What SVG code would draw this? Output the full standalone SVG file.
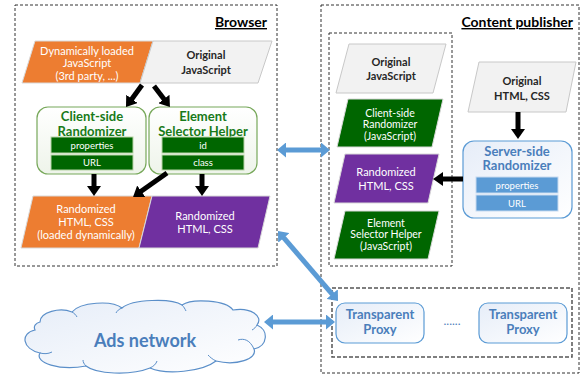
<svg xmlns="http://www.w3.org/2000/svg" width="581" height="375" viewBox="0 0 581 375">
<defs>
<linearGradient id="gGreen" x1="0" y1="0" x2="0" y2="1"><stop offset="0" stop-color="#ffffff"/><stop offset="1" stop-color="#eef4ea"/></linearGradient>
<linearGradient id="gBlue" x1="0" y1="0" x2="1" y2="1"><stop offset="0" stop-color="#e6edf8"/><stop offset="1" stop-color="#ffffff"/></linearGradient>
<marker id="ahK" markerUnits="userSpaceOnUse" viewBox="0 0 10 14" markerWidth="10" markerHeight="14" refX="1" refY="7" orient="auto"><path d="M0,0 L10,7 L0,14 z" fill="#000"/></marker>
<marker id="ahB" markerUnits="userSpaceOnUse" viewBox="0 0 9 15" markerWidth="9" markerHeight="15" refX="1" refY="7.5" orient="auto-start-reverse"><path d="M0,0 L9,7.5 L0,15 z" fill="#5b9bd5"/></marker>
</defs>
<style>
.t{font-family:Lato,"Open Sans","Liberation Sans",sans-serif}
.dash{fill:none;stroke:#333;stroke-width:1;stroke-dasharray:3 2}
.dash2{fill:none;stroke:#555;stroke-width:1.5;stroke-dasharray:4 2}
.title{font-size:14px;font-weight:bold;fill:#000;text-decoration:underline}
.gray{fill:#f2f2f2;stroke:#c8c8c8;stroke-width:1}
.grayT{font-size:11px;font-weight:bold;fill:#262626;text-anchor:middle}
.wT{font-size:11px;fill:#fff;text-anchor:middle}
.wS{font-size:10.5px;fill:#fff;text-anchor:middle}
.orange{fill:#ed7d31;stroke:#d9d9d9;stroke-width:1}
.purple{fill:#7030a0;stroke:#d9d9d9;stroke-width:1}
.dgreen{fill:#006600;stroke:#d9d9d9;stroke-width:1}
.gbox{fill:url(#gGreen);stroke:#77a85a;stroke-width:1.2}
.gT{font-size:13px;font-weight:bold;fill:#187a18;text-anchor:middle}
.gsub{fill:#006600;stroke:#b7d3a5;stroke-width:1}
.sT{font-size:9.5px;fill:#fff;text-anchor:middle}
.bbox{fill:url(#gBlue);stroke:#5b9bd5;stroke-width:1.2}
.bT{font-size:13px;font-weight:bold;fill:#4a7ebb;text-anchor:middle}
.pT{font-size:13px;font-weight:bold;fill:#4a7ebb;text-anchor:middle}
.bsub{fill:#5b9bd5;stroke:#c5d9ef;stroke-width:1}
.ka{stroke:#000;stroke-width:5;fill:none;marker-end:url(#ahK)}
.ba{stroke:#5b9bd5;stroke-width:5;fill:none;marker-start:url(#ahB);marker-end:url(#ahB)}
</style>

<g id="browser">
<rect class="dash" x="15" y="5" width="262" height="261"/>
<text class="t title" x="267" y="27" text-anchor="end">Browser</text>
</g>
<g id="publisher">
<rect class="dash" x="321" y="5" width="258" height="368"/>
<text class="t title" x="573" y="27" text-anchor="end">Content publisher</text>
</g>
<g id="served-group"><rect class="dash" x="329" y="33" width="123" height="233"/></g>
<g id="proxy-group"><rect class="dash2" x="332" y="288" width="240" height="69"/></g>

<g id="dyn-js">
<polygon class="orange" points="35,41 153,41 140,83 22,83"/>
<text class="t wT" x="87" y="54.5">Dynamically loaded</text>
<text class="t wT" x="87" y="67">JavaScript</text>
<text class="t wT" x="87" y="79.5">(3rd party, ...)</text>
</g>
<g id="orig-js-browser">
<polygon class="gray" points="153,41 272,41 258,83 140,83"/>
<text class="t grayT" x="206" y="59">Original</text>
<text class="t grayT" x="206" y="74">JavaScript</text>
</g>

<g id="client-randomizer">
<rect class="gbox" x="37" y="107" width="109" height="67" rx="11"/>
<text class="t gT" x="92" y="121">Client-side</text>
<text class="t gT" x="92" y="135.5">Randomizer</text>
<rect class="gsub" x="51" y="137" width="82" height="16"/>
<text class="t sT" x="92" y="148.5">properties</text>
<rect class="gsub" x="51" y="155" width="82" height="15"/>
<text class="t sT" x="92" y="166">URL</text>
</g>
<g id="element-helper">
<rect class="gbox" x="149" y="107" width="108" height="67" rx="11"/>
<text class="t gT" x="203" y="121">Element</text>
<text class="t gT" x="203" y="135.5">Selector Helper</text>
<rect class="gsub" x="162" y="137" width="82" height="16"/>
<text class="t sT" x="203" y="148.5">id</text>
<rect class="gsub" x="162" y="155" width="82" height="15"/>
<text class="t sT" x="203" y="166">class</text>
</g>

<g id="rand-dyn">
<polygon class="orange" points="33,196 152,196 139,248 21,248"/>
<text class="t wT" x="86" y="212.5">Randomized</text>
<text class="t wT" x="86" y="225.5">HTML, CSS</text>
<text class="t wT" x="86" y="238.5">(loaded dynamically)</text>
</g>
<g id="rand-browser">
<polygon class="purple" points="152,196 270,196 258,248 139,248"/>
<text class="t wT" x="205" y="219.5">Randomized</text>
<text class="t wT" x="205" y="233">HTML, CSS</text>
</g>

<g id="orig-js-pub">
<polygon class="gray" points="349,44 446,44 433,93 336,93"/>
<text class="t grayT" x="391" y="66">Original</text>
<text class="t grayT" x="391" y="80">JavaScript</text>
</g>
<g id="client-js">
<polygon class="dgreen" points="348,99 443,99 432,147 337,147"/>
<text class="t wS" x="390" y="116.5">Client-side</text>
<text class="t wS" x="390" y="128">Randomizer</text>
<text class="t wS" x="390" y="139.5">(JavaScript)</text>
</g>
<g id="rand-pub">
<polygon class="purple" points="345,154 439,154 428,203 334,203"/>
<text class="t wT" x="386" y="176">Randomized</text>
<text class="t wT" x="386" y="190">HTML, CSS</text>
</g>
<g id="helper-js">
<polygon class="dgreen" points="345,211 439,211 428,259 334,259"/>
<text class="t wS" x="386" y="226.5">Element</text>
<text class="t wS" x="386" y="238">Selector Helper</text>
<text class="t wS" x="386" y="249.5">(JavaScript)</text>
</g>

<g id="orig-html">
<polygon class="gray" points="479,62 576,62 566,112 468,112"/>
<text class="t grayT" x="522" y="85">Original</text>
<text class="t grayT" x="522" y="100">HTML, CSS</text>
</g>
<g id="server-randomizer">
<rect class="bbox" x="463" y="141" width="109" height="77" rx="11"/>
<text class="t bT" x="517" y="155.5">Server-side</text>
<text class="t bT" x="517" y="170">Randomizer</text>
<rect class="bsub" x="476" y="177" width="82" height="16"/>
<text class="t sT" x="517" y="188.5">properties</text>
<rect class="bsub" x="476" y="195" width="82" height="16"/>
<text class="t sT" x="517" y="206.5">URL</text>
</g>

<g id="proxy1">
<rect class="bbox" x="336" y="303" width="88" height="40" rx="9"/>
<text class="t pT" x="380" y="319">Transparent</text>
<text class="t pT" x="380" y="333.5">Proxy</text>
</g>
<g id="dots"><text class="t" x="452" y="325" font-size="12" fill="#4a7ebb" text-anchor="middle">......</text></g>
<g id="proxy2">
<rect class="bbox" x="479" y="303" width="88" height="40" rx="9"/>
<text class="t pT" x="523" y="319">Transparent</text>
<text class="t pT" x="523" y="333.5">Proxy</text>
</g>

<g id="ads-network">
<path d="M40,322 C40,312 60,307 72,312 C80,302 112,300 122,308 C132,299 172,298 182,305 C192,298 226,300 233,310 C250,307 264,316 257,325 C269,330 268,346 254,349 C258,359 236,366 216,361 C202,372 166,375 150,368 C130,376 96,374 86,366 C60,371 34,363 40,353 C22,349 20,333 35,330 C33,326 36,323 40,322 Z" fill="url(#gBlue)" stroke="#5b8fc9" stroke-width="1.2"/>
<path d="M40,353 C44,354 48,354 52,352 M86,366 C84,364 83,362 83,360 M150,368 C154,366 156,364 157,361 M216,361 C212,359 210,357 208,355 M254,349 C250,340 244,338 238,340 M257,325 C256,327 254,329 252,330 M182,305 C184,307 185,309 186,311 M122,308 C119,309 117,311 116,313 M72,312 C74,313 76,315 77,317" fill="none" stroke="#5b8fc9" stroke-width="1"/>
<text class="t" x="145" y="347" font-size="18" font-weight="bold" fill="#4a7ebb" text-anchor="middle">Ads network</text>
</g>

<g id="connectors">
<line class="ka" x1="142" y1="85" x2="131.3" y2="99.7"/>
<line class="ka" x1="154" y1="86" x2="164.5" y2="99.8"/>
<line class="ka" x1="94" y1="174" x2="94" y2="187"/>
<line class="ka" x1="167" y1="173" x2="140.4" y2="191.8"/>
<line class="ka" x1="202" y1="174" x2="202" y2="187"/>
<line class="ka" x1="518" y1="112" x2="518" y2="130"/>
<line class="ka" x1="463" y1="179" x2="442" y2="179"/>
<line class="ba" x1="285" y1="150" x2="322" y2="150"/>
<line class="ba" x1="283.2" y1="237.1" x2="332.8" y2="294.9"/>
<line class="ba" x1="272" y1="322" x2="327" y2="322"/>
</g>
</svg>
